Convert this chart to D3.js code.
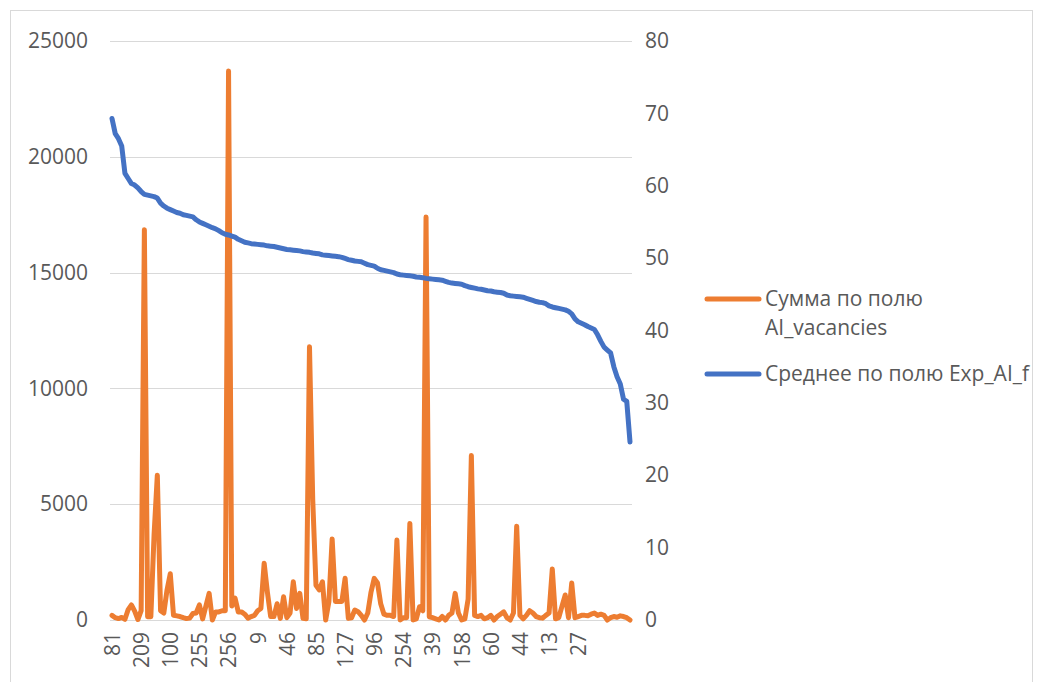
<!DOCTYPE html>
<html>
<head>
<meta charset="utf-8">
<script src="https://cdn.jsdelivr.net/npm/d3@7"></script>
<style>
  body { margin: 0; background: #fff; }
  svg { display: block; }
  text { font-family: "Open Sans", "Liberation Sans", sans-serif; fill: #595959; }
</style>
</head>
<body>
<svg id="chart" width="1049" height="682"></svg>
<script>
// Region codes along the category axis
const categories = [
  81, 74, 203, 15, 168, 92, 231, 57, 140,
  209, 33, 118, 246, 64, 187, 5, 152, 221,
  100, 12, 199, 77, 134, 248, 41, 176, 89,
  255, 3, 162, 217, 50, 109, 238, 71, 145,
  256, 22, 193, 117, 58, 230, 86, 171, 30,
  9, 206, 131, 67, 243, 18, 155, 98, 225,
  46, 183, 7, 139, 251, 62, 110, 197, 36,
  85, 214, 123, 1, 166, 240, 53, 190, 104,
  127, 236, 69, 148, 11, 202, 94, 180, 43,
  96, 219, 137, 25, 173, 249, 79, 113, 228,
  254, 16, 160, 88, 211, 55, 142, 233, 70,
  39, 186, 120, 2, 245, 75, 164, 31, 207,
  158, 48, 129, 223, 91, 19, 177, 244, 65,
  60, 150, 213, 37, 102, 188, 8, 226, 83,
  44, 170, 121, 252, 14, 195, 73, 136, 239,
  13, 108, 182, 52, 216, 126, 4, 163, 95,
  27, 200, 147, 59, 234, 112, 21, 178, 82,
  247, 132, 40, 191, 6, 153, 220, 97
];

// Category labels printed under the axis
const tickLabels = [81, 209, 100, 255, 256, 9, 46, 85, 127, 96, 254, 39, 158, 60, 44, 13, 27];

// Sum of AI_vacancies per region (left axis)
const vacancies = [
  200, 100, 60, 110, 30, 450, 650, 380, 20,
  400, 16850, 140, 140, 3700, 6250, 400, 300, 1300,
  2000, 200, 180, 150, 100, 60, 80, 280, 300,
  650, 50, 600, 1150, 0, 350, 350, 400, 400,
  23700, 600, 950, 350, 350, 250, 80, 150, 200,
  400, 500, 2450, 1200, 150, 150, 700, 70, 1000,
  100, 300, 1650, 500, 1150, 70, 50, 11800, 5200,
  1500, 1300, 1650, 0, 800, 3500, 800, 800, 800,
  1800, 70, 100, 430, 360, 200, 0, 300, 1200,
  1800, 1600, 700, 250, 200, 200, 150, 3450, 0,
  100, 100, 4170, 0, 50, 575, 400, 17400, 140,
  100, 50, 0, 150, 0, 200, 300, 1150, 300,
  0, 50, 900, 7100, 200, 150, 200, 50, 100,
  200, 0, 150, 250, 350, 100, 0, 300, 4050,
  200, 50, 200, 400, 300, 150, 100, 80, 200,
  300, 2200, 50, 100, 600, 1080, 100, 1600, 100,
  150, 200, 200, 180, 250, 300, 200, 250, 200,
  0, 100, 150, 120, 180, 150, 100, 0
];

// Mean of Exp_AI_f per region (right axis)
const expAI = [
  69.3, 67.2, 66.5, 65.5, 61.7, 61.0, 60.3, 60.1, 59.7,
  59.2, 58.8, 58.7, 58.6, 58.5, 58.3, 57.6, 57.2, 56.9,
  56.7, 56.5, 56.3, 56.2, 56.0, 55.9, 55.8, 55.7, 55.3,
  55.0, 54.8, 54.6, 54.4, 54.2, 54.05, 53.8, 53.5, 53.3,
  53.2, 53.05, 52.9, 52.6, 52.4, 52.2, 52.1, 52.0, 51.95,
  51.9, 51.85, 51.8, 51.7, 51.65, 51.6, 51.5, 51.4, 51.3,
  51.2, 51.15, 51.1, 51.05, 51.0, 50.9, 50.85, 50.8, 50.7,
  50.65, 50.6, 50.45, 50.4, 50.35, 50.3, 50.25, 50.2, 50.1,
  49.95, 49.8, 49.7, 49.6, 49.55, 49.5, 49.3, 49.1, 49.0,
  48.9, 48.6, 48.4, 48.3, 48.2, 48.1, 48.0, 47.8, 47.7,
  47.65, 47.6, 47.55, 47.5, 47.4, 47.35, 47.3, 47.2, 47.15,
  47.1, 47.05, 47.0, 46.95, 46.8, 46.65, 46.55, 46.5, 46.45,
  46.4, 46.2, 46.05, 45.95, 45.85, 45.75, 45.7, 45.6, 45.5,
  45.45, 45.35, 45.3, 45.25, 45.15, 44.9, 44.8, 44.75, 44.7,
  44.65, 44.6, 44.45, 44.3, 44.15, 44.0, 43.9, 43.85, 43.7,
  43.4, 43.25, 43.15, 43.05, 42.95, 42.85, 42.65, 42.3, 41.6,
  41.2, 41.0, 40.8, 40.55, 40.35, 40.15, 39.4, 38.5, 37.7,
  37.3, 36.9, 35.0, 33.6, 32.6, 30.5, 30.2, 24.6
];

const leftTicks = [0, 5000, 10000, 15000, 20000, 25000];
const rightTicks = [0, 10, 20, 30, 40, 50, 60, 70, 80];
const seriesNames = [["Сумма по полю", "AI_vacancies"], ["Среднее по полю Exp_AI_f"]];
const colors = ["#ED7D31", "#4472C4"];

const svg = d3.select("#chart");
const plot = { left: 110, right: 632, top: 41, bottom: 620 };
const fontSize = "21px";

// Outer chart frame
svg.append("rect")
  .attr("x", 10.5).attr("y", 10.5)
  .attr("width", 1022).attr("height", 690)
  .attr("fill", "none").attr("stroke", "#d9d9d9").attr("stroke-width", 1);

const x = d3.scalePoint()
  .domain(d3.range(categories.length))
  .range([112, 630]);
const yL = d3.scaleLinear().domain([0, 25000]).range([plot.bottom, plot.top]);
const yR = d3.scaleLinear().domain([0, 80]).range([plot.bottom, plot.top]);

// Horizontal gridlines
svg.append("g").selectAll("line")
  .data(leftTicks)
  .join("line")
  .attr("x1", plot.left).attr("x2", plot.right)
  .attr("y1", d => Math.round(yL(d)) + 0.5)
  .attr("y2", d => Math.round(yL(d)) + 0.5)
  .attr("stroke", "#d9d9d9").attr("stroke-width", 1);

// Left value axis
const gL = svg.append("g")
  .attr("transform", `translate(${plot.left},0)`)
  .call(d3.axisLeft(yL).tickValues(leftTicks).tickSize(0).tickPadding(22).tickFormat(d3.format("d")));
gL.select(".domain").remove();
gL.selectAll("text").style("font-size", fontSize).attr("fill", "#595959");

// Right value axis
const gR = svg.append("g")
  .attr("transform", `translate(${plot.right},0)`)
  .call(d3.axisRight(yR).tickValues(rightTicks).tickSize(0).tickPadding(13));
gR.select(".domain").remove();
gR.selectAll("text").style("font-size", fontSize).attr("fill", "#595959");

// Category axis with rotated labels
const gB = svg.append("g")
  .attr("transform", `translate(0,${plot.bottom})`)
  .call(d3.axisBottom(x)
    .tickValues(tickLabels.map(l => categories.indexOf(l)))
    .tickFormat(i => categories[i])
    .tickSize(0));
gB.select(".domain").remove();
gB.selectAll("text")
  .style("font-size", fontSize)
  .attr("fill", "#595959")
  .attr("transform", "rotate(-90)")
  .attr("text-anchor", "end")
  .attr("x", -12)
  .attr("y", 0)
  .attr("dy", "0.35em");

svg.append("line")
  .attr("x1", plot.left).attr("x2", plot.right)
  .attr("y1", plot.bottom + 0.5).attr("y2", plot.bottom + 0.5)
  .attr("stroke", "#d9d9d9");

// Series lines
const lineL = d3.line().x((d, i) => x(i)).y(d => yL(d));
const lineR = d3.line().x((d, i) => x(i)).y(d => yR(d));

svg.append("path")
  .datum(vacancies)
  .attr("d", lineL)
  .attr("fill", "none")
  .attr("stroke", colors[0])
  .attr("stroke-width", 5)
  .attr("stroke-linejoin", "round")
  .attr("stroke-linecap", "round");

svg.append("path")
  .datum(expAI)
  .attr("d", lineR)
  .attr("fill", "none")
  .attr("stroke", colors[1])
  .attr("stroke-width", 5)
  .attr("stroke-linejoin", "round")
  .attr("stroke-linecap", "round");

// Legend
const legend = svg.append("g");
const legendRows = [{ y: 299, textY: 306 }, { y: 374, textY: 381 }];
seriesNames.forEach((lines, k) => {
  const row = legendRows[k];
  legend.append("line")
    .attr("x1", 707).attr("x2", 759)
    .attr("y1", row.y).attr("y2", row.y)
    .attr("stroke", colors[k]).attr("stroke-width", 5)
    .attr("stroke-linecap", "round");
  const t = legend.append("text")
    .attr("x", 765).attr("y", row.textY)
    .style("font-size", fontSize);
  lines.forEach((s, j) => {
    t.append("tspan").attr("x", 765).attr("dy", j === 0 ? 0 : 29).text(s);
  });
});
</script>
</body>
</html>
